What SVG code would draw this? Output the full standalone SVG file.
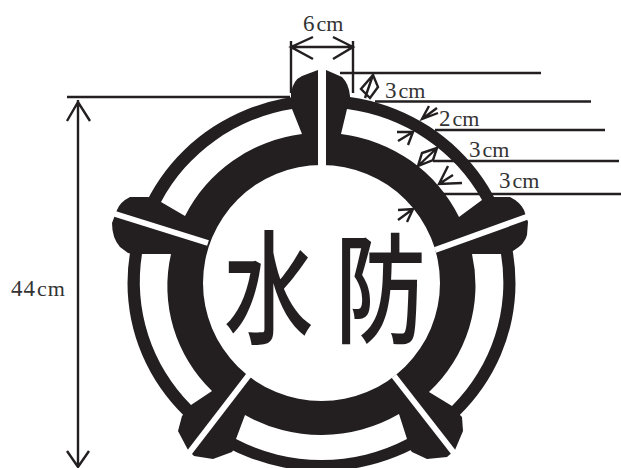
<svg xmlns="http://www.w3.org/2000/svg" width="621" height="468" viewBox="0 0 621 468">
<style>
.k{fill:#231f20}
.w{fill:#fff}
.gap{stroke:#fff;stroke-width:6;fill:none}
.l{stroke:#231f20;stroke-width:2.4;fill:none;stroke-linejoin:miter}
.t{font-family:"Liberation Serif","DejaVu Serif",serif;font-size:23px;fill:#333}
.u{font-size:22px}
.h{font-family:"Noto Sans CJK JP","Noto Sans CJK SC",sans-serif;font-size:96px;font-weight:500;fill:#231f20}
</style>
<rect width="621" height="468" fill="#fff"/>
<g id="emblem">
<path class="k" fill-rule="evenodd" d="M127.500 283a194 188 0 1 0 388 0a194 188 0 1 0-388 0ZM203 283a118.500 118 0 1 1 237 0a118.500 118 0 1 1-237 0Z"/>
<g id="lugs">
<path class="k" d="M291 100L291 93Q293 80 302 76L318 70L326 70L342 77Q349 84 350 96L350 110L330 140L310 140Z"/>
<path class="k" d="M485 205L493 197L510 197Q520 202 524 210L528 222L527 235Q525 244 513 251L470 262L450 225Z"/>
<path class="k" d="M180 205L148 197L130 197Q120 202 117 210L112 223Q112 238 120 247L128 253L170 262L195 225Z"/>
<path class="k" d="M200 395L182 416L178 431L188 450L194 456L213 459L232 452L250 425Z"/>
<path class="k" d="M440 395L462 417L463 431L455 450L447 457L427 459L412 452L390 425Z"/>
</g>
<g id="windows">
<path class="w" d="M347 109A181 177 0 0 1 482 200L459 217A152 148 0 0 0 341 134Z"/>
<path class="w" d="M292 109A181 177 0 0 0 161 202L185 216A152 148 0 0 1 302 134Z"/>
<path class="w" d="M142 254A181 177 0 0 0 191 405L212 391A152 148 0 0 1 171 254Z"/>
<path class="w" d="M501 254A181 177 0 0 1 452 406L429 392A152 148 0 0 0 472 254Z"/>
<path class="w" d="M236 439A181 177 0 0 0 407 439L399 414A152 148 0 0 1 245 415Z"/>
</g>
<g id="gaps">
<path class="gap" d="M322 62V168" style="stroke-width:8"/>
<path class="gap" d="M435 250L532 215"/>
<path class="gap" d="M208 243L112 213"/>
<path class="gap" d="M249 375L189 453"/>
<path class="gap" d="M394 376L454 453"/>
</g>
<g id="characters">
<text class="h" transform="translate(224 334) scale(.93 1.28)">水</text>
<text class="h" transform="translate(335 334) scale(.945 1.24)">防</text>
</g>
</g>
<g id="dimensions">
<path class="l" d="M291 41V93M353 41V93M291 47H353M313 37L291 47L313 59M333 37L353 47L333 59"/>
<path class="l" d="M340 73H541M375 101.500H591M435 130H605M433 161H619M443 194H621"/>
<path class="l" d="M67 97H290M78 100V467M67 121L78 102L90 121M67 451L78 467L89 451"/>
<path class="l" d="M373 75L378 87L370 98L361 89ZM373 75L365 98"/>
<path class="l" d="M429 106L422 119L438 113M422 119L437 108"/>
<path class="l" d="M397 132L413 132L408 145M413 132L398 141"/>
<path class="l" d="M437 148L433 160L418 166L422 153ZM437 148L418 166"/>
<path class="l" d="M448 166L439 184L462 183M439 184L453 175"/>
<path class="l" d="M398 210L413 209L407 222M413 209L398 220"/>
</g>
<g id="labels">
<text class="t" x="303" y="31">6<tspan class="u" dx="2">cm</tspan></text>
<text class="t" x="385" y="98">3<tspan class="u" dx="2">cm</tspan></text>
<text class="t" x="439" y="126">2<tspan class="u" dx="2">cm</tspan></text>
<text class="t" x="469" y="157">3<tspan class="u" dx="2">cm</tspan></text>
<text class="t" x="499" y="188">3<tspan class="u" dx="2">cm</tspan></text>
<text class="t" x="11" y="296" letter-spacing="1">44<tspan class="u" dx="1">cm</tspan></text>
</g>
</svg>
